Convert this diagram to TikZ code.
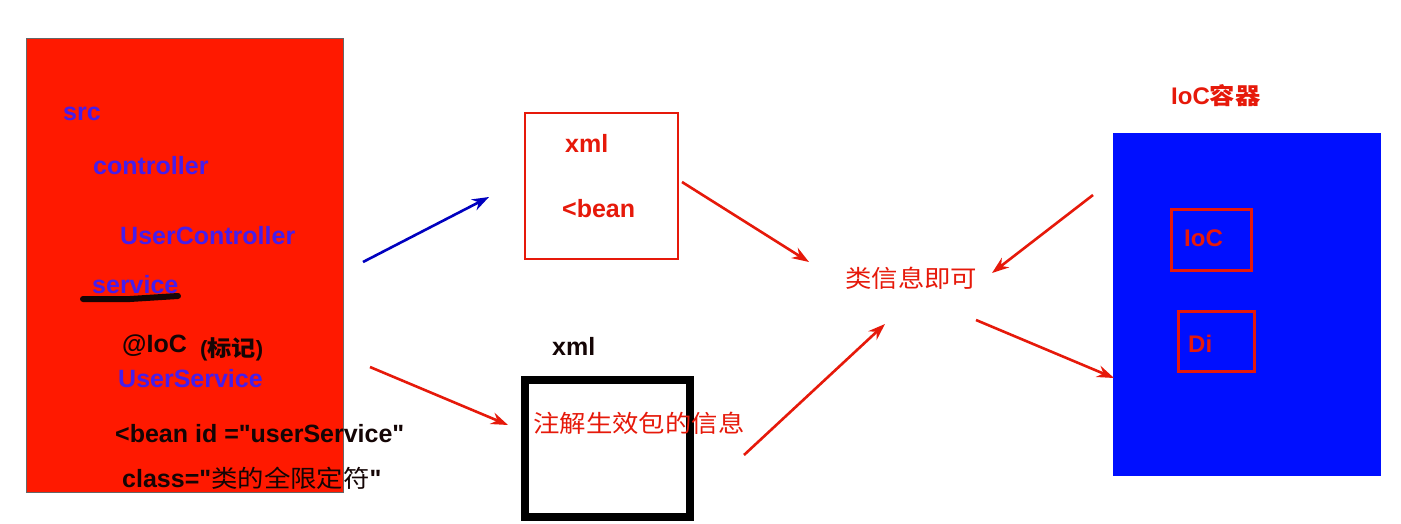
\documentclass[tikz,border=0pt]{standalone}
\usepackage{fontspec}
\setmainfont{Liberation Sans}[Ligatures=TeXOff]
\newfontfamily\cjk{Noto Sans CJK SC}[FakeStretch=1.1]
\usetikzlibrary{arrows.meta}
\definecolor{redfill}{RGB}{255,25,0}
\definecolor{bluefill}{RGB}{0,15,255}
\definecolor{bluetext}{RGB}{70,30,235}
\definecolor{redtext}{RGB}{230,25,10}
\definecolor{blacktext}{RGB}{20,5,5}
\tikzset{
  lbl/.style={anchor=base west, inner sep=0pt, font=\bfseries\fontsize{25}{29}\selectfont},
  cjklbl/.style={anchor=west, inner sep=0pt, font=\cjk\fontsize{24}{28}\selectfont, text=redtext},
  arr/.style={line width=2.6pt, -{Stealth[length=17pt,width=12pt]}},
  redarr/.style={arr, draw=redtext},
}
\begin{document}
\begin{tikzpicture}[x=1pt,y=-1pt]
\useasboundingbox[fill=white] (0,0) rectangle (1401,524);
% left source panel
\node[draw=black!60, line width=0.6pt, fill=redfill, minimum width=317pt, minimum height=454pt, anchor=north west, inner sep=0pt] (src) at (26,38) {};
\node[lbl, text=bluetext] (tsrc) at (63,121) {src};
\node[lbl, text=bluetext] (tctrl) at (93,175) {controller};
\node[lbl, text=bluetext] (tuc) at (120,244) {UserController};
\node[lbl, text=bluetext] (tsvc) at (92,293) {service};
\draw[line width=6pt, line cap=round, blacktext] (83,299) -- (130,299) -- (178,296);
\node[lbl, text=blacktext] (tioc) at (122,352) {@IoC};
\node[lbl, text=blacktext, font=\bfseries\fontsize{22}{26}\selectfont] (tmark) at (200,356) {({\cjk 标记})};
\node[lbl, text=bluetext] (tus) at (118,387) {UserService};
\node[lbl, text=blacktext] (tbean) at (115,442) {<bean id ="userService"};
\node[lbl, text=blacktext] (tclass) at (122,487) {class="{\cjk\mdseries\fontsize{24}{28}\selectfont 类的全限定符}"};
% xml box (red)
\node[draw=redtext, line width=2.4pt, minimum width=153pt, minimum height=146pt, anchor=north west, inner sep=0pt] (xml1) at (524,112) {};
\node[lbl, text=redtext] (txml1) at (565,153) {xml};
\node[lbl, text=redtext] (tbean2) at (562,218) {<bean};
% xml box (black)
\node[lbl, text=blacktext] (txml2) at (552,355) {xml};
\node[draw=black, line width=8pt, minimum width=165pt, minimum height=137pt, anchor=north west, inner sep=0pt] (xml2) at (521,376) {};
\node[cjklbl] (tanno) at (533,423) {注解生效包的信息};
% center label
\node[cjklbl] (tcls) at (845,278) {类信息即可};
% IoC container
\node[lbl, text=redtext, font=\bfseries\fontsize{24}{28}\selectfont] (tcont) at (1171,105) {IoC{\cjk\fontsize{23}{27}\selectfont 容器}};
\node[fill=bluefill, minimum width=268pt, minimum height=343pt, anchor=north west, inner sep=0pt] (cont) at (1113,133) {};
\node[draw=redtext, line width=2.6pt, minimum width=80pt, minimum height=61pt, anchor=north west, inner sep=0pt] (iocbox) at (1170,208) {};
\node[lbl, text=redtext, font=\bfseries\fontsize{24}{28}\selectfont] (tiocb) at (1184,246) {IoC};
\node[draw=redtext, line width=2.6pt, minimum width=76pt, minimum height=60pt, anchor=north west, inner sep=0pt] (dibox) at (1177,310) {};
\node[lbl, text=redtext, font=\bfseries\fontsize{24}{28}\selectfont] (tdi) at (1188,352) {Di};
% arrows
\coordinate (a1s) at (363,262); \coordinate (a1e) at (489,197);
\coordinate (a2s) at (682,182); \coordinate (a2e) at (809,262);
\coordinate (a3s) at (370,367); \coordinate (a3e) at (508,425);
\coordinate (a4s) at (744,455); \coordinate (a4e) at (885,324);
\coordinate (a5s) at (1093,195); \coordinate (a5e) at (992,273);
\coordinate (a6s) at (976,320); \coordinate (a6e) at (1114,378);
\draw[arr, draw=blue!75!black] (a1s) -- (a1e);
\draw[redarr] (a2s) -- (a2e);
\draw[redarr] (a3s) -- (a3e);
\draw[redarr] (a4s) -- (a4e);
\draw[redarr] (a5s) -- (a5e);
\draw[redarr] (a6s) -- (a6e);
\end{tikzpicture}
\end{document}
